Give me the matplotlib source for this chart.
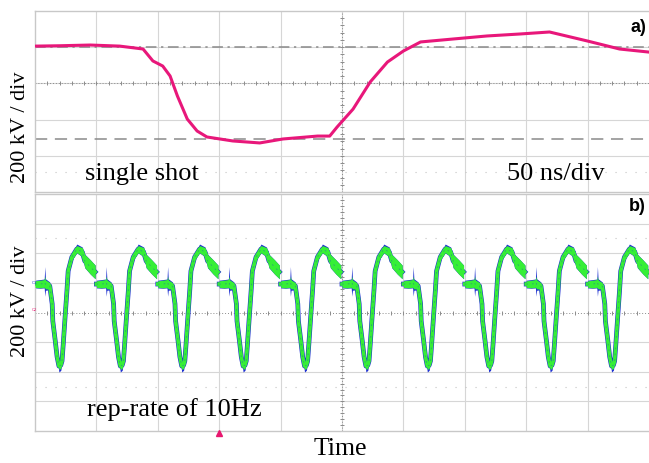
import matplotlib.pyplot as plt

# panel a: single shot, time in ns, voltage in kV
shot_t = [0, 20, 45, 69, 88, 96, 104, 110, 116, 124, 132, 140, 161, 183, 202,
          230, 240, 246, 259, 273, 287, 300, 314, 340, 368, 395, 419, 450, 476, 500]
shot_v = [204, 206, 210, 204, 188, 122, 94, 39, -72, -199, -265, -298, -320, -331, -309,
          -293, -293, -243, -144, 6, 116, 177, 227, 243, 260, 271, 282, 232, 188, 171]
ref_top = 200
ref_bottom = -310

# panel b: one pulse segment (x in div from segment start, values in kV)
seg_x = [0, 0.08, 0.15, 0.16, 0.17, 0.24, 0.28, 0.29, 0.33, 0.36, 0.39, 0.42,
         0.44, 0.46, 0.49, 0.52, 0.54, 0.60, 0.68, 0.77, 0.81, 0.90, 0.98]
green_mid = [192, 192, 196, 205, 190, 180, 58, -58, -192, -300, -362, -356,
             -328, -214, -30, 146, 280, 374, 428, 408, 348, 308, 274]
green_half = [22, 26, 26, 40, 30, 22, 10, 10, 10, 12, 22, 22,
              12, 10, 10, 10, 14, 20, 24, 30, 44, 48, 46]
blue_top = [218, 222, 226, 310, 228, 206, 68, -48, -182, -288, -345, -340,
            -316, -204, -20, 156, 296, 398, 462, 442, 394, 356, 320]
blue_bot = [166, 164, 166, 110, 150, 154, 48, -68, -202, -314, -402, -390,
            -340, -224, -40, 136, 264, 352, 402, 376, 302, 260, 228]
seg_start = [0, 1, 2, 3, 4, 5, 6, 7, 8, 9]

W, H = 649, 464
fig = plt.figure(figsize=(W / 100, H / 100), dpi=100)
plt.rcParams['font.family'] = 'Liberation Serif'

def fx(x):
    return x / W

def fy(y):
    return 1 - y / H

grid_c = '#d6d6d6'
axis_c = '#8c8c8c'

def scope_axes(rect, xmax, ymin, ymax, ystep, xstep):
    ax = fig.add_axes(rect)
    ax.set_xlim(0, xmax)
    ax.set_ylim(ymin, ymax)
    ax.set_xticks([])
    ax.set_yticks([])
    for s in ax.spines.values():
        s.set_color('#c8c8c8')
        s.set_linewidth(1)
    ax.spines['right'].set_visible(False)
    x = xstep
    while x < xmax - 1e-6:
        ax.axvline(x, color=grid_c, lw=0.8, zorder=0)
        x += xstep
    y = ymin + ystep
    while y < ymax - 1e-6:
        if abs(y) > 1e-6:
            ax.axhline(y, color=grid_c, lw=0.8, zorder=0)
        y += ystep
    # centre cross with minor ticks
    ax.axhline(0, color=axis_c, lw=0.7, ls=(0, (1, 2)), zorder=1)
    ax.axvline(xmax / 2, color=axis_c, lw=0.7, ls=(0, (1, 2)), zorder=1)
    mx = [i * xstep / 5 for i in range(1, int(round(xmax / xstep * 5)))]
    ax.plot(mx, [0] * len(mx), ls='none', marker='|', ms=3, color=axis_c, mew=0.7, zorder=1)
    my = []
    y = ymin + ystep / 5
    while y < ymax - 1e-6:
        my.append(y)
        y += ystep / 5
    ax.plot([xmax / 2] * len(my), my, ls='none', marker='_', ms=3, color=axis_c, mew=0.7, zorder=1)
    return ax

# panel a
ax_a = scope_axes([fx(35), fy(193), (W - 35) / W, 181 / H], 500, -602, 398, 200, 50)
ax_a.axhline(ref_top, color='#8a8a8a', lw=1.1, ls=(0, (7, 3, 1.5, 3)), zorder=1)
ax_a.axhline(ref_bottom, color='#8a8a8a', lw=1.1, ls=(0, (8, 5)), zorder=1)
ax_a.axhline(-490, color='#c4c4c4', lw=0.8, ls=(0, (1, 8)), zorder=0)
ax_a.plot(shot_t, shot_v, color='#e8177a', lw=2.2, zorder=3)

# panel b
ax_b = scope_axes([fx(35), fy(432), (W - 35) / W, 237 / H], 10, -800, 800, 200, 1)
ax_b.axhline(500, color='#c4c4c4', lw=0.8, ls=(0, (1, 8)), zorder=0)
ax_b.axhline(-500, color='#c4c4c4', lw=0.8, ls=(0, (1, 8)), zorder=0)
for s in seg_start:
    xs = [s + x for x in seg_x]
    g_hi = [m + h for m, h in zip(green_mid, green_half)]
    g_lo = [m - h for m, h in zip(green_mid, green_half)]
    ax_b.fill_between(xs, blue_bot, blue_top, color='#1c2fd0', lw=0, zorder=2)
    ax_b.plot(xs, green_mid, color='#1c2fd0', lw=3.4, zorder=2)
    ax_b.fill_between(xs, g_lo, g_hi, color='#36ef36', lw=0, zorder=3)
    ax_b.plot(xs, green_mid, color='#36ef36', lw=2.6, zorder=3)
    ax_b.plot(xs, green_mid, color='#1c2fd0', lw=0.6, ls=(0, (2, 5)), alpha=0.4, zorder=4)
ax_b.plot([3.0], [-813], marker='^', ms=4, color='#e8176f', clip_on=False, zorder=5)

# texts
fig.text(fx(21), fy(127), '200 kV / div', rotation=90, ha='center', va='center', fontsize=16)
fig.text(fx(21), fy(301), '200 kV / div', rotation=90, ha='center', va='center', fontsize=16)
fig.text(fx(85), fy(180), 'single shot', ha='left', va='baseline', fontsize=19)
fig.text(fx(507), fy(180), '50 ns/div', ha='left', va='baseline', fontsize=19)
fig.text(fx(87), fy(416), 'rep-rate of 10Hz', ha='left', va='baseline', fontsize=19)
fig.text(fx(340), fy(455), 'Time', ha='center', va='baseline', fontsize=18.5)
fig.text(fx(646), fy(27), 'a)', ha='right', va='center', fontsize=13,
         family='Liberation Sans', weight='bold')
fig.text(fx(646), fy(207), 'b)', ha='right', va='center', fontsize=13,
         family='Liberation Sans', weight='bold')
fig.text(fx(32), fy(283), 'C3', ha='left', va='center', fontsize=3,
         family='Liberation Sans', color='#1c2fd0')
fig.text(fx(32), fy(310), 'C2', ha='left', va='center', fontsize=3,
         family='Liberation Sans', color='#e8176f')

fig.savefig('out.png', dpi=100)
